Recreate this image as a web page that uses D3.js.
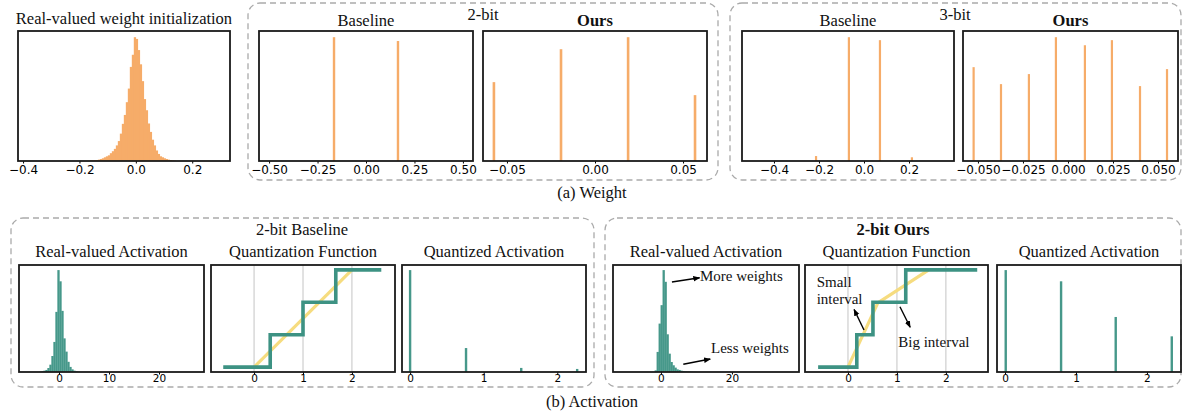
<!DOCTYPE html>
<html>
<head>
<meta charset="utf-8">
<script src="https://cdn.jsdelivr.net/npm/d3@7"></script>
<style>
  body { margin: 0; background: #fff; }
</style>
</head>
<body>
<div id="chart"></div>
<script>
// ---- data ----
// (a) weights: real-valued histogram (relative bin heights)
const wInitStart = -0.163, wInitBin = 0.00708;
const wInitCounts = [0.005, 0.005, 0.008, 0.008, 0.011, 0.016, 0.022, 0.030, 0.038, 0.046,
  0.063, 0.079, 0.098, 0.126, 0.161, 0.221, 0.300, 0.372, 0.475, 0.585,
  0.760, 0.858, 1.000, 0.986, 0.896, 0.781, 0.645, 0.500, 0.410, 0.303,
  0.235, 0.172, 0.126, 0.085, 0.057, 0.038, 0.030, 0.022, 0.016, 0.011,
  0.008, 0.005, 0.003];
const wInitTicks = [-0.4, -0.2, 0, 0.2];
const wInitLabels = ["\u22120.4", "\u22120.2", "0.0", "0.2"];

const base2Pos = [-0.165, 0.165];
const base2Cnt = [1.0, 0.969];
const base2Ticks = [-0.5, -0.25, 0, 0.25, 0.5];
const base2Labels = ["\u22120.50", "\u22120.25", "0.00", "0.25", "0.50"];

const ours2Pos = [-0.0574, -0.0193, 0.0188, 0.0568];
const ours2Cnt = [0.637, 0.903, 1.0, 0.532];
const ours2Ticks = [-0.05, 0, 0.05];
const ours2Labels = ["\u22120.05", "0.00", "0.05"];

const base3Pos = [-0.213, -0.067, 0.071, 0.213];
const base3Cnt = [0.04, 1.0, 0.976, 0.03];
const base3Ticks = [-0.4, -0.2, 0, 0.2];
const base3Labels = ["\u22120.4", "\u22120.2", "0.0", "0.2"];

const ours3Pos = [-0.0524, -0.0372, -0.0217, -0.0067, 0.0094, 0.0244, 0.040, 0.055];
const ours3Cnt = [0.758, 0.621, 0.702, 1.0, 0.935, 0.976, 0.605, 0.742];
const ours3Ticks = [-0.05, -0.025, 0, 0.025, 0.05];
const ours3Labels = ["\u22120.050", "\u22120.025", "0.000", "0.025", "0.050"];

// (b) activations
const actBaseStart = -3.93, actBaseBin = 0.4;
const actBaseCounts = [0.003, 0.007, 0.013, 0.020, 0.039, 0.072, 0.157, 0.295, 0.590, 1.000,
  0.890, 0.600, 0.330, 0.200, 0.100, 0.050, 0.026, 0.013, 0.007, 0.003];
const actBaseTicks = [0, 10, 20];

const actOursStart = -1.78, actOursBin = 0.56;
const actOursCounts = [0.016, 0.197, 0.475, 0.656, 1.000, 0.885, 0.370, 0.180, 0.098, 0.066,
  0.043, 0.026, 0.020, 0.013, 0.010, 0.007, 0.005, 0.004, 0.003, 0.002, 0.002];
const actOursTicks = [0, 20];

const quantTicks = [0, 1, 2];
const qBaseStep = [[-0.63, 0], [0.33, 0.667], [1.0, 1.333], [1.67, 2], [2.6, 2]];
const qBaseLine = [[0, 0], [2, 2]];
const qOursStep = [[-0.61, 0], [0.18, 0.667], [0.51, 1.333], [1.18, 2], [2.64, 2]];
const qOursLine = [[0, 0], [0.61, 1.32], [1.65, 2]];

const qaBasePos = [0, 0.76, 1.51, 2.27];
const qaBaseCnt = [1.0, 0.235, 0.04, 0.03];
const qaOursPos = [0.01, 0.79, 1.56, 2.35];
const qaOursCnt = [1.0, 0.89, 0.54, 0.35];

// ---- drawing ----
const W = 1184, H = 414;
const orange = "#f6ac69", teal = "#46988a", tealLine = "#3d9283", yellow = "#f6dc7f";
const serif = "'Liberation Serif','Times New Roman',serif";
const sans = "'DejaVu Sans',sans-serif";

const svg = d3.select("#chart").append("svg")
  .attr("width", W).attr("height", H);

svg.append("defs").append("marker")
  .attr("id", "arr")
  .attr("viewBox", "0 0 10 10")
  .attr("refX", 9).attr("refY", 5)
  .attr("markerWidth", 7).attr("markerHeight", 7)
  .attr("markerUnits", "userSpaceOnUse")
  .attr("orient", "auto")
  .append("path").attr("d", "M0,1 L10,5 L0,9 Z").attr("fill", "#000");

// dashed group boxes
const boxes = [[248, 3, 470, 177], [730, 3, 451, 177], [11, 218, 583, 169], [605, 218, 576, 169]];
svg.selectAll(".grp").data(boxes).enter().append("rect")
  .attr("class", "grp")
  .attr("x", d => d[0]).attr("y", d => d[1])
  .attr("width", d => d[2]).attr("height", d => d[3])
  .attr("rx", 12)
  .attr("fill", "none")
  .attr("stroke", "#aaa")
  .attr("stroke-width", 1.3)
  .attr("stroke-dasharray", "6,4");

function panel(box, xDom, yDom) {
  let x = d3.scaleLinear().domain(xDom).range([box[0], box[1]]);
  let y = d3.scaleLinear().domain(yDom).range([box[3], box[2]]);
  let g = svg.append("g");
  return { g: g, x: x, y: y, box: box };
}

function finish(p, ticks, labels, fs, pad) {
  let ax = p.g.append("g")
    .attr("transform", "translate(0," + p.box[3] + ")")
    .call(d3.axisBottom(p.x).tickValues(ticks)
      .tickFormat((d, i) => labels ? labels[i] : d3.format("d")(d))
      .tickSize(2.5).tickPadding(pad));
  ax.select(".domain").remove();
  ax.selectAll("line").attr("stroke", "#000");
  ax.selectAll("text")
    .attr("fill", "#000")
    .style("font-family", sans)
    .style("font-size", fs + "px");
  p.g.append("rect")
    .attr("x", p.box[0]).attr("y", p.box[2])
    .attr("width", p.box[1] - p.box[0])
    .attr("height", p.box[3] - p.box[2])
    .attr("fill", "none")
    .attr("stroke", "#1a1a1a")
    .attr("stroke-width", 1.8);
}

function hist(p, start, bin, counts, color) {
  p.g.selectAll(null).data(counts).enter().append("rect")
    .attr("x", (d, i) => p.x(start + i * bin))
    .attr("width", (d, i) => p.x(start + (i + 1) * bin) - p.x(start + i * bin) + 0.3)
    .attr("y", d => p.y(d))
    .attr("height", d => p.y(0) - p.y(d))
    .attr("fill", color);
}

function spikes(p, pos, cnt, color, w) {
  p.g.selectAll(null).data(pos).enter().append("rect")
    .attr("x", d => p.x(d) - w / 2)
    .attr("width", w)
    .attr("y", (d, i) => p.y(cnt[i]))
    .attr("height", (d, i) => p.y(0) - p.y(cnt[i]))
    .attr("fill", color);
}

function quant(p, step, line) {
  p.g.selectAll(null).data(quantTicks).enter().append("line")
    .attr("x1", d => p.x(d)).attr("x2", d => p.x(d))
    .attr("y1", p.box[2]).attr("y2", p.box[3])
    .attr("stroke", "#c4c4c4").attr("stroke-width", 1);
  p.g.append("path")
    .attr("d", d3.line().x(d => p.x(d[0])).y(d => p.y(d[1]))(line))
    .attr("fill", "none").attr("stroke", yellow).attr("stroke-width", 3.2);
  p.g.append("path")
    .attr("d", d3.line().curve(d3.curveStepAfter).x(d => p.x(d[0])).y(d => p.y(d[1]))(step))
    .attr("fill", "none").attr("stroke", tealLine).attr("stroke-width", 3.6);
}

function text(x, y, s, size, bold, anchor) {
  svg.append("text")
    .attr("x", x).attr("y", y)
    .attr("text-anchor", anchor || "middle")
    .style("font-family", serif)
    .style("font-size", size + "px")
    .style("font-weight", bold ? "bold" : "normal")
    .attr("fill", "#111")
    .text(s);
}

function arrow(p, a, b) {
  p.g.append("line")
    .attr("x1", p.x(a[0])).attr("y1", p.y(a[1]))
    .attr("x2", p.x(b[0])).attr("y2", p.y(b[1]))
    .attr("stroke", "#000").attr("stroke-width", 1.4)
    .attr("marker-end", "url(#arr)");
}

const topY = [31, 161], botY = [265, 372];

// (a) Weight
let p1 = panel([18, 230, topY[0], topY[1]], [-0.418, 0.334], [0, 1.05]);
hist(p1, wInitStart, wInitBin, wInitCounts, orange);
finish(p1, wInitTicks, wInitLabels, 12, 1.5);

let p2 = panel([259, 473, topY[0], topY[1]], [-0.552, 0.552], [0, 1.05]);
spikes(p2, base2Pos, base2Cnt, orange, 2.4);
finish(p2, base2Ticks, base2Labels, 12, 1.5);

let p3 = panel([483, 707, topY[0], topY[1]], [-0.0636, 0.0636], [0, 1.05]);
spikes(p3, ours2Pos, ours2Cnt, orange, 2.6);
finish(p3, ours2Ticks, ours2Labels, 12, 1.5);

let p4 = panel([742, 954, topY[0], topY[1]], [-0.542, 0.40], [0, 1.05]);
spikes(p4, base3Pos, base3Cnt, orange, 2.2);
finish(p4, base3Ticks, base3Labels, 12, 1.5);

let p5 = panel([963, 1178, topY[0], topY[1]], [-0.0583, 0.0611], [0, 1.05]);
spikes(p5, ours3Pos, ours3Cnt, orange, 2.2);
finish(p5, ours3Ticks, ours3Labels, 12, 1.5);

text(124, 24, "Real-valued weight initialization", 16.5);
text(366, 26, "Baseline", 16.5);
text(595, 26, "Ours", 16.5, true);
text(483, 20, "2-bit", 16.5);
text(848, 26, "Baseline", 16.5);
text(1070.5, 26, "Ours", 16.5, true);
text(955, 20, "3-bit", 16.5);
text(592, 198, "(a) Weight", 16.5);

// (b) Activation
let b1 = panel([19, 204, botY[0], botY[1]], [-8, 29], [0, 1.05]);
hist(b1, actBaseStart, actBaseBin, actBaseCounts, teal);
finish(b1, actBaseTicks, null, 10.5, 0.5);

let b2 = panel([211, 395, botY[0], botY[1]], [-0.88, 2.88], [-0.1, 2.1]);
quant(b2, qBaseStep, qBaseLine);
finish(b2, quantTicks, null, 10.5, 0.5);

let b3 = panel([402, 586, botY[0], botY[1]], [-0.11, 2.39], [0, 1.05]);
spikes(b3, qaBasePos, qaBaseCnt, teal, 2.4);
finish(b3, quantTicks, null, 10.5, 0.5);

let b4 = panel([613, 799, botY[0], botY[1]], [-13.5, 38.9], [0, 1.05]);
hist(b4, actOursStart, actOursBin, actOursCounts, teal);
finish(b4, actOursTicks, null, 10.5, 0.5);

let b5 = panel([805, 988, botY[0], botY[1]], [-0.878, 2.86], [-0.1, 2.1]);
quant(b5, qOursStep, qOursLine);
finish(b5, quantTicks, null, 10.5, 0.5);

let b6 = panel([997, 1181, botY[0], botY[1]], [-0.113, 2.48], [0, 1.05]);
spikes(b6, qaOursPos, qaOursCnt, teal, 2.4);
finish(b6, quantTicks, null, 10.5, 0.5);

text(302, 235, "2-bit Baseline", 16.5);
text(893, 235, "2-bit Ours", 16.5, true);
text(111.5, 257, "Real-valued Activation", 16.5);
text(303, 257, "Quantization Function", 16.5);
text(494, 257, "Quantized Activation", 16.5);
text(706, 257, "Real-valued Activation", 16.5);
text(896.5, 257, "Quantization Function", 16.5);
text(1089, 257, "Quantized Activation", 16.5);
text(592, 407, "(b) Activation", 16.5);

// annotations (data coordinates of their panel)
arrow(b4, [3.1, 0.883], [10.9, 0.925]);
text(b4.x(11), b4.y(0.893), "More weights", 15, false, "start");
arrow(b4, [6.3, 0.076], [13.9, 0.127]);
text(b4.x(14.1), b4.y(0.186), "Less weights", 15, false, "start");

arrow(b5, [0.327, 0.763], [0.125, 1.185]);
text(b5.x(-0.64), b5.y(1.654), "Small", 15, false, "start");
text(b5.x(-0.64), b5.y(1.298), "interval", 15, false, "start");
arrow(b5, [1.061, 1.242], [1.27, 0.82]);
text(b5.x(1.027), b5.y(0.42), "Big interval", 15, false, "start");
</script>
</body>
</html>
